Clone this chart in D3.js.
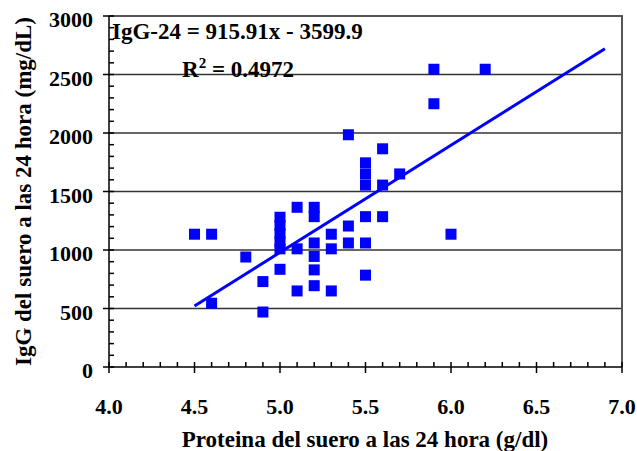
<!DOCTYPE html>
<html>
<head>
<meta charset="utf-8">
<script src="https://cdn.jsdelivr.net/npm/d3@7"></script>
<style>
  body { margin: 0; background: #fff; }
  svg text { font-family: "Liberation Serif", "Times New Roman", serif; font-weight: bold; fill: #000; }
</style>
</head>
<body>
<div id="chart"></div>
<script>
// proteina (g/dl) and IgG (mg/dL)
const proteina = [4.5, 4.6, 4.6, 4.8, 4.9, 4.9,
  5.0, 5.0, 5.0, 5.0, 5.0, 5.0,
  5.1, 5.1, 5.1,
  5.2, 5.2, 5.2, 5.2, 5.2, 5.2,
  5.3, 5.3, 5.3,
  5.4, 5.4, 5.4,
  5.5, 5.5, 5.5, 5.5, 5.5, 5.5,
  5.6, 5.6, 5.6,
  5.7, 5.9, 5.9, 6.0, 6.2];
const igg = [1135, 1135, 545, 940, 730, 470,
  1280, 1210, 1140, 1070, 1010, 835,
  1365, 1010, 650,
  1365, 1285, 1060, 945, 830, 695,
  1135, 1010, 650,
  1985, 1205, 1060,
  1745, 1650, 1555, 1285, 1060, 785,
  1865, 1555, 1285,
  1650, 2545, 2250, 1135, 2545];

const slope = 915.91, intercept = -3599.9;
const trendX = [4.5, 6.9];

const xTicks = [4.0, 4.5, 5.0, 5.5, 6.0, 6.5, 7.0];
const yTicks = [0, 500, 1000, 1500, 2000, 2500, 3000];

const width = 637, height = 451;
const m = { left: 109, right: 622, top: 16, bottom: 367 };

const svg = d3.select("#chart").append("svg")
  .attr("width", width)
  .attr("height", height);

const x = d3.scaleLinear().domain([4, 7]).range([m.left, m.right]);
const y = d3.scaleLinear().domain([0, 3000]).range([m.bottom, m.top]);

// gridlines
svg.selectAll(".grid")
  .data(yTicks.filter(d => d > 0))
  .join("line")
  .attr("class", "grid")
  .attr("x1", m.left).attr("x2", m.right)
  .attr("y1", d => y(d)).attr("y2", d => y(d))
  .attr("stroke", "#333").attr("stroke-width", 1.5);

// frame (top and right)
svg.append("path")
  .attr("d", `M${m.left},${m.top}H${m.right}V${m.bottom}`)
  .attr("fill", "none").attr("stroke", "#555").attr("stroke-width", 2);

// ticks: minor inside, major crossing the axis
const yMinor = d3.range(0, 3001, 100);
svg.append("g").selectAll("line")
  .data(yMinor)
  .join("line")
  .attr("x1", d => yTicks.includes(d) ? m.left - 6 : m.left).attr("x2", m.left + 5)
  .attr("y1", d => y(d)).attr("y2", d => y(d))
  .attr("stroke", "#000").attr("stroke-width", 1.5);

const xMinor = d3.range(0, 31).map(i => 4 + i / 10);
svg.append("g").selectAll("line")
  .data(xMinor)
  .join("line")
  .attr("x1", d => x(d)).attr("x2", d => x(d))
  .attr("y1", (d, i) => i % 5 === 0 ? m.bottom + 6 : m.bottom).attr("y2", m.bottom - 5)
  .attr("stroke", "#000").attr("stroke-width", 1.5);

// axis lines
svg.append("line").attr("x1", m.left).attr("x2", m.left).attr("y1", m.top).attr("y2", m.bottom)
  .attr("stroke", "#000").attr("stroke-width", 1.5);
svg.append("line").attr("x1", m.left).attr("x2", m.right).attr("y1", m.bottom).attr("y2", m.bottom)
  .attr("stroke", "#000").attr("stroke-width", 1.5);

// tick labels
svg.append("g").selectAll("text")
  .data(yTicks)
  .join("text")
  .attr("x", 93).attr("y", d => y(d))
  .attr("dy", "0.5em")
  .attr("text-anchor", "end")
  .style("font-size", "22px")
  .text(d => d);

svg.append("g").selectAll("text")
  .data(xTicks)
  .join("text")
  .attr("x", d => x(d)).attr("y", 414)
  .attr("text-anchor", "middle")
  .style("font-size", "22px")
  .text(d => d.toFixed(1));

// axis titles
svg.append("text")
  .attr("transform", `translate(31,${(m.top + m.bottom) / 2}) rotate(-90)`)
  .attr("text-anchor", "middle")
  .style("font-size", "23px")
  .text("IgG del suero a las 24 hora (mg/dL)");

svg.append("text")
  .attr("x", 365).attr("y", 447)
  .attr("text-anchor", "middle")
  .style("font-size", "23px")
  .text("Proteina del suero a las 24 hora (g/dl)");

// trend line
svg.append("line")
  .attr("x1", x(trendX[0])).attr("y1", y(slope * trendX[0] + intercept))
  .attr("x2", x(trendX[1])).attr("y2", y(slope * trendX[1] + intercept))
  .attr("stroke", "#0000ff").attr("stroke-width", 3);

// points
const s = 11;
svg.append("g").selectAll("rect")
  .data(proteina.map((p, i) => [p, igg[i]]))
  .join("rect")
  .attr("x", d => x(d[0]) - s / 2)
  .attr("y", d => y(d[1]) - s / 2)
  .attr("width", s).attr("height", s)
  .attr("fill", "#0000ff");

// equation
svg.append("text")
  .attr("x", 112).attr("y", 39)
  .style("font-size", "23px")
  .text("IgG-24 = 915.91x - 3599.9");

const r2 = svg.append("text")
  .attr("x", 182).attr("y", 77)
  .style("font-size", "23px");
r2.append("tspan").text("R");
r2.append("tspan").attr("dy", -9).style("font-size", "15px").text("2");
r2.append("tspan").attr("dy", 9).text(" = 0.4972");
</script>
</body>
</html>
